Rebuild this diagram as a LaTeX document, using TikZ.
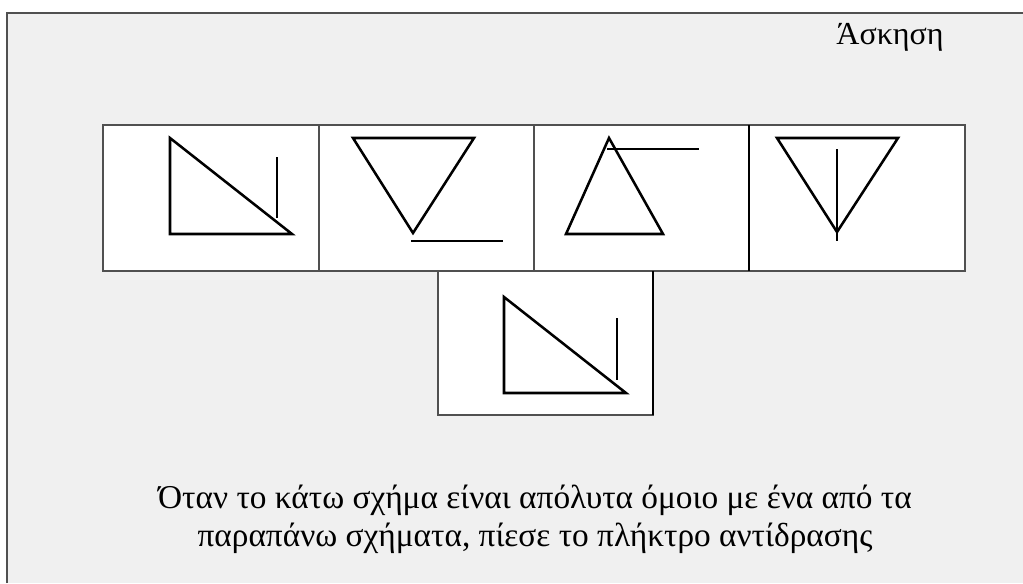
\documentclass[tikz,border=0pt]{standalone}
\usepackage{fontspec}
\setmainfont{Liberation Serif}
\usetikzlibrary{positioning}
\definecolor{slidegray}{HTML}{F0F0F0}
\definecolor{edgegray}{HTML}{505050}

\begin{document}
\begin{tikzpicture}[x=0.75pt, y=-0.75pt,
    panel/.style={draw=edgegray, line width=1pt, fill=white},
    figline/.style={line width=1.9pt, line join=miter},
    label/.style={font=\fontsize{25}{36}\selectfont, inner sep=0pt}]
    \useasboundingbox (0,0) rectangle (1023,583);
    % slide background and frame
    \fill[white] (0,0) rectangle (1023,583);
    \fill[slidegray] (7,13) rectangle (1023,583);
    \draw[edgegray, line width=1.6pt] (7,583) -- (7,13) -- (1023,13);
    \node[label, font=\fontsize{24}{30}\selectfont, anchor=base] (title) at (890,44) {Άσκηση};
    % top row of panels
    \draw[panel] (103,125) rectangle (319,271);
    \draw[panel] (319,125) rectangle (534,271);
    \draw[panel] (534,125) rectangle (749,271);
    \draw[panel] (749,125) rectangle (965,271);
    \draw[black, line width=1.5pt] (749,125) -- (749,271);
    % target panel
    \draw[panel] (438,271) rectangle (653,415);
    \draw[black, line width=1.5pt] (653,271) -- (653,415);
    % shapes
    \draw[figline] (170,138) -- (170,234) -- (292,234) -- cycle;
    \draw[figline] (277,157) -- (277,218);
    \draw[figline] (353,138) -- (474,138) -- (413,233) -- cycle;
    \draw[figline] (411,241) -- (503,241);
    \draw[figline] (609,138) -- (663,234) -- (566,234) -- cycle;
    \draw[figline] (607,149) -- (699,149);
    \draw[figline] (777,138) -- (898,138) -- (837,232) -- cycle;
    \draw[figline] (837,149) -- (837,241);
    \draw[figline] (504,297) -- (504,393) -- (626,393) -- cycle;
    \draw[figline] (617,318) -- (617,380);
    % instruction
    \node[label, anchor=base] (instr1) at (535,508)
        {Όταν το κάτω σχήμα είναι απόλυτα όμοιο με ένα από τα};
    \node[label, anchor=base] (instr2) at (535,546)
        {παραπάνω σχήματα, πίεσε το πλήκτρο αντίδρασης};
\end{tikzpicture}
\end{document}
